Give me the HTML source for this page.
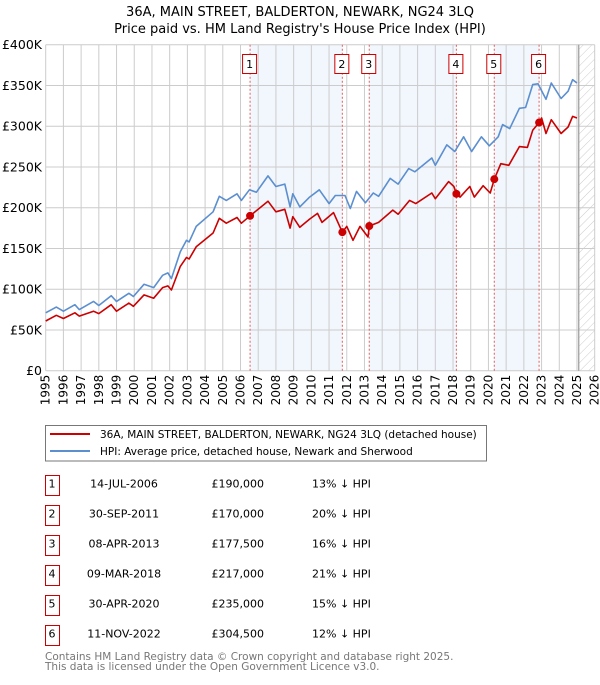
<!DOCTYPE html>
<html><head><meta charset="utf-8"><style>
body{margin:0;background:#fff;font-family:"Liberation Sans","DejaVu Sans",sans-serif;}
svg text{font-family:"DejaVu Sans","Liberation Sans",sans-serif;}
</style></head><body>
<svg id="c" width="600" height="680" viewBox="0 0 600 680" xmlns="http://www.w3.org/2000/svg">
<defs><pattern id="hatch" width="6" height="6" patternUnits="userSpaceOnUse" patternTransform="rotate(45)"><line x1="0" y1="0" x2="0" y2="6" stroke="#ccc" stroke-width="1"/></pattern></defs>
<text x="300" y="16" text-anchor="middle" font-size="13">36A, MAIN STREET, BALDERTON, NEWARK, NG24 3LQ</text>
<text x="300" y="33" text-anchor="middle" font-size="13">Price paid vs. HM Land Registry's House Price Index (HPI)</text>
<g id="plot"></g>
<rect x="45.5" y="425.5" width="441" height="35.5" fill="#fff" stroke="#777"/>
<line x1="50" y1="434" x2="90" y2="434" stroke="#cc0000" stroke-width="2"/>
<text x="100" y="438" font-size="10.5">36A, MAIN STREET, BALDERTON, NEWARK, NG24 3LQ (detached house)</text>
<line x1="50" y1="451" x2="90" y2="451" stroke="#5b8fd0" stroke-width="2"/>
<text x="100" y="455" font-size="10.5">HPI: Average price, detached house, Newark and Sherwood</text>
<g id="table"></g>
<text x="45" y="660" font-size="10.5" fill="#777">Contains HM Land Registry data © Crown copyright and database right 2025.</text>
<text x="45" y="670" font-size="10.5" fill="#777">This data is licensed under the Open Government Licence v3.0.</text>
</svg>
<script>
const hpiYears=[1995,1995.6,1996,1996.65,1996.9,1997.7,1998,1998.7,1999,1999.7,1999.95,2000.55,2001.1,2001.6,2001.9,2002.1,2002.6,2002.95,2003.1,2003.5,2004.45,2004.8,2005.2,2005.8,2006.05,2006.5,2006.9,2007.55,2008,2008.5,2008.8,2008.95,2009.35,2009.9,2010.45,2011,2011.35,2011.9,2012.2,2012.55,2013.05,2013.5,2013.8,2014.45,2014.9,2015.5,2015.85,2016.8,2017,2017.65,2018.1,2018.6,2019.05,2019.6,2020.05,2020.55,2020.8,2021.2,2021.75,2022.1,2022.5,2022.8,2023.25,2023.55,2024.1,2024.5,2024.75,2025];
const hpiValues=[71,78,73,81,75,85,80,92,85,95,91,106,102,117,120,113,146,160,158,177,195,214,209,217,209,222,219,239,226,229,201,217,201,213,222,205,215,215,199,220,206,218,214,236,229,248,244,261,252,277,269,287,269,287,276,287,302,297,322,323,351,352,333,353,334,343,357,353];
const propYears=[1995,1995.6,1996,1996.65,1996.9,1997.7,1998,1998.7,1999,1999.7,1999.95,2000.55,2001.1,2001.6,2001.9,2002.1,2002.6,2002.95,2003.1,2003.5,2004.45,2004.8,2005.2,2005.8,2006.05,2006.54,2007.55,2008,2008.5,2008.8,2008.95,2009.35,2009.9,2010.35,2010.6,2011.25,2011.75,2012.0,2012.35,2012.75,2013.2,2013.27,2013.8,2014.6,2014.9,2015.55,2015.9,2016.8,2017,2017.75,2018.05,2018.19,2018.4,2018.95,2019.2,2019.7,2020.1,2020.33,2020.7,2021.15,2021.75,2022.2,2022.5,2022.86,2023.0,2023.25,2023.55,2024.1,2024.5,2024.75,2025];
const propValues=[61,68,64,71,67,73,70,81,73,83,79,93,89,102,104,99,128,139,137,152,169,187,181,188,181,190,208,195,198,175,189,176,186,193,182,194,170,177,160,177,164,177.5,182,197,192,209,205,218,211,232,226,217,213,226,213,227,218,235,254,252,275,274,295,304.5,310,291,308,291,299,312,310];
const saleYears=[2006.54,2011.75,2013.27,2018.19,2020.33,2022.86];
const saleValues=[190,170,177.5,217,235,304.5];
const saleLabels=["1","2","3","4","5","6"];
const saleDates=["14-JUL-2006","30-SEP-2011","08-APR-2013","09-MAR-2018","30-APR-2020","11-NOV-2022"];
const salePrices=["£190,000","£170,000","£177,500","£217,000","£235,000","£304,500"];
const saleDiffs=["13% ↓ HPI","20% ↓ HPI","16% ↓ HPI","21% ↓ HPI","15% ↓ HPI","12% ↓ HPI"];
const yTicks=[0,50,100,150,200,250,300,350,400];
const yTickLabels=["£0","£50K","£100K","£150K","£200K","£250K","£300K","£350K","£400K"];
const xTicks=[1995,1996,1997,1998,1999,2000,2001,2002,2003,2004,2005,2006,2007,2008,2009,2010,2011,2012,2013,2014,2015,2016,2017,2018,2019,2020,2021,2022,2023,2024,2025,2026];
const dataEnd=2025.1;

const NS="http://www.w3.org/2000/svg";
const L=45.7,R=594.7,T=44.7,B=370.7;
const x=y=>L+(y-1995)/(2026-1995)*(R-L);
const yv=v=>B-v/400*(B-T);
function mk(tag,attrs,parent){const e=document.createElementNS(NS,tag);for(const k in attrs)e.setAttribute(k,attrs[k]);parent.appendChild(e);return e;}
const g=document.getElementById('plot');
for(let i=0;i<saleYears.length;i+=2){
  const x1=x(saleYears[i]),x2=i+1<saleYears.length?x(saleYears[i+1]):x(dataEnd);
  const r=mk('rect',{x:x1,y:T,width:x2-x1,height:B-T,fill:'#eef3fc',opacity:0.75},g);
  
  
}
const hz=mk('rect',{x:x(dataEnd),y:T,width:R-x(dataEnd),height:B-T,fill:'url(#hatch)'},g);


xTicks.forEach(t=>{
  const l=mk('line',{x1:x(t),x2:x(t),y1:T,y2:B,stroke:'#ccc','stroke-width':1},g);
  
  
  const tx=mk('text',{x:0,y:0,'font-size':12,'text-anchor':'end',transform:`translate(${x(t)+4},${B+4}) rotate(-90)`},g);
  tx.textContent=t;
  
  
});
yTicks.forEach((t,i)=>{
  const l=mk('line',{x1:L,x2:R,y1:yv(t),y2:yv(t),stroke:'#ccc','stroke-width':1},g);
  
  
  const tx=mk('text',{x:42,y:yv(t)+4.5,'font-size':12.5,'text-anchor':'end'},g);
  tx.textContent=yTickLabels[i];
  
  
});
const dl=mk('line',{x1:x(dataEnd),x2:x(dataEnd),y1:T,y2:B,stroke:'#999','stroke-width':1.2},g);


saleYears.forEach((s,i)=>{
  const l=mk('line',{x1:x(s),x2:x(s),y1:T,y2:B,stroke:'#e06060','stroke-width':1,'stroke-dasharray':'2,2'},g);
  
  
  const b=mk('rect',{x:x(s)-7.5,y:54.5,width:14,height:19,fill:'#fff',stroke:'#cc0000'},g);
  
  
  const t=mk('text',{x:x(s)-0.5,y:68,'font-size':11,'text-anchor':'middle'},g);
  t.textContent=saleLabels[i];
  
  
});
const pts=(xs,vs)=>xs.map((a,i)=>x(a).toFixed(1)+','+yv(vs[i]).toFixed(1)).join(' ');
const hl=mk('polyline',{points:pts(hpiYears,hpiValues),fill:'none',stroke:'#5b8fd0','stroke-width':1.6,'stroke-linejoin':'round'},g);


const pl=mk('polyline',{points:pts(propYears,propValues),fill:'none',stroke:'#cc0000','stroke-width':1.6,'stroke-linejoin':'round'},g);


saleYears.forEach((s,i)=>{
  const c=mk('circle',{cx:x(s),cy:yv(saleValues[i]),r:4,fill:'#cc0000'},g);
  
  
});
const tb=document.getElementById('table');
saleLabels.forEach((lab,i)=>{
  const y0=475.5+i*30;
  const b=mk('rect',{x:45.5,y:y0,width:14,height:20,fill:'#fff',stroke:'#cc0000'},tb);
  
  
  const cells=[[52,'middle',lab,'table-row-number'],[124,'middle',saleDates[i],'table-sale-date'],[264,'end',salePrices[i],'table-sale-price'],[312,'start',saleDiffs[i],'table-hpi-diff']];
  cells.forEach(c=>{
    const t=mk('text',{x:c[0],y:y0+12,'font-size':11,'text-anchor':c[1]},tb);
    t.textContent=c[2];
    
    
  });
});
</script>
</body></html>
